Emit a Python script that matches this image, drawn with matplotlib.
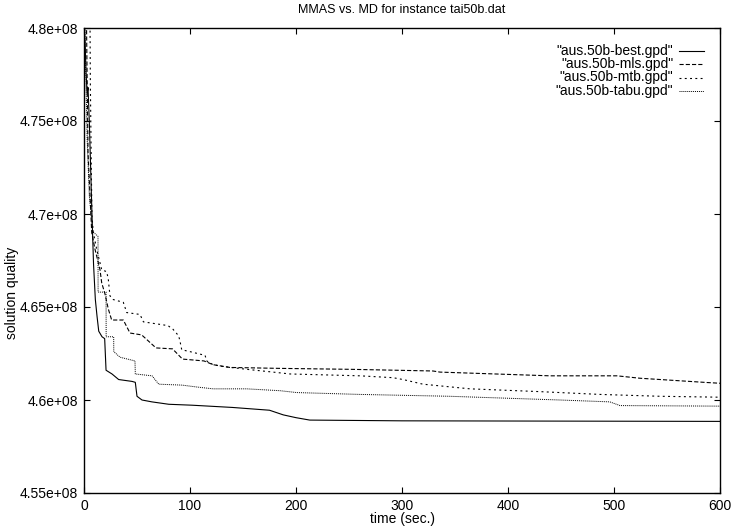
import matplotlib
matplotlib.use("Agg")
import matplotlib.pyplot as plt
from matplotlib.lines import Line2D
from matplotlib.ticker import FuncFormatter

plt.rcParams['font.family'] = ['Liberation Sans', 'DejaVu Sans']
plt.rcParams['lines.scale_dashes'] = False

title = "MMAS vs. MD for instance tai50b.dat"
xlabel = "time (sec.)"
ylabel = "solution quality"

labels = ['"aus.50b-best.gpd"', '"aus.50b-mls.gpd"', '"aus.50b-mtb.gpd"', '"aus.50b-tabu.gpd"']

# values in units of 1e6
best_t = [0, 2, 3, 3.8, 5, 7.5, 9, 10.7, 12.3, 13.9, 17, 19.5, 20.8, 26.4, 32.7, 45.3, 48.4,
          50, 54.7, 64, 80, 102, 140, 175, 188, 200, 213, 300, 600]
best_v = [481, 477.5, 476.5, 476.8, 475, 470, 467.3, 465.4, 464.5, 463.7, 463.4, 463.3, 461.6,
          461.4, 461.1, 461.0, 460.95, 460.2, 460.0, 459.9, 459.77, 459.72, 459.6, 459.45,
          459.2, 459.05, 458.92, 458.88, 458.85]

mls_t = [0, 2.4, 3.8, 7.3, 10.4, 15.1, 16.7, 19.8, 22.9, 26.1, 37.1, 43.4, 54.4, 67.9, 83.5,
         92.9, 113.2, 121.7, 137.7, 184.9, 250.9, 329.2, 335.8, 439.6, 502.8, 524.5, 587.7, 600]
mls_v = [482, 480.0, 473.3, 469.0, 468.1, 467.0, 466.3, 465.7, 464.9, 464.3, 464.3, 463.6, 463.5,
         462.8, 462.75, 462.2, 462.1, 461.9, 461.75, 461.7, 461.65, 461.56, 461.5, 461.3, 461.3,
         461.17, 460.94, 460.9]

mtb_t = [4.5, 5.7, 6, 7, 7.5, 8.8, 12, 16.7, 21.4, 22.9, 24.5, 27.6, 37.1, 40.3, 52.8, 56.1,
         79.2, 84, 89.3, 90.6, 92.2, 100, 114.2, 115.8, 121.7, 131.1, 153.5, 178.3, 194.3,
         260.4, 291.5, 301, 319.8, 364.2, 430, 486.8, 543.4, 600]
mtb_v = [482, 480.0, 477, 472, 469.9, 469.0, 468.1, 467.0, 466.9, 466.5, 465.6, 465.4, 465.25,
         464.7, 464.6, 464.2, 464.0, 463.8, 463.45, 463.15, 462.7, 462.6, 462.4, 462.1, 461.9,
         461.8, 461.65, 461.5, 461.4, 461.3, 461.2, 461.1, 460.85, 460.6, 460.45, 460.3,
         460.2, 460.15]

tabu_t = [0, 1.5, 3, 5, 8, 9.2, 13.2, 13.3, 20.8, 20.9, 28, 28.1, 34, 48.1, 48.4, 64.2, 70.5,
          92.5, 106.3, 121.7, 153.5, 184.9, 200.7, 260.4, 345, 449, 496, 505.7, 600]
tabu_v = [482, 478, 474, 471, 469.2, 469.0, 468.8, 465.8, 465.8, 463.4, 463.4, 462.6, 462.3,
          462.1, 461.4, 461.3, 460.85, 460.8, 460.7, 460.6, 460.6, 460.5, 460.4, 460.3, 460.2,
          460.0, 459.9, 459.7, 459.67]

xticks = [0, 100, 200, 300, 400, 500, 600]
yticks = [455, 460, 465, 470, 475, 480]

W, H = 731, 529
fig = plt.figure(figsize=(W / 100, H / 100), dpi=100)
ax = fig.add_axes([84 / W, 1 - 493 / H, (720 - 84) / W, (493 - 28) / H])

fs = 10
styles = [dict(lw=0.8, linestyle='-'),
          dict(lw=0.8, dashes=(3, 1.5)),
          dict(lw=0.8, dashes=(1.4, 2.4)),
          dict(lw=0.7, dashes=(0.7, 0.7))]
series = [(best_t, best_v), (mls_t, mls_v), (mtb_t, mtb_v), (tabu_t, tabu_v)]
for (t, v), st, lab in zip(series, styles, labels):
    ax.plot(t, v, color='black', label=lab, **st)

ax.set_xlim(0, 600)
ax.set_ylim(455, 480)
ax.set_xticks(xticks)
ax.set_yticks(yticks)
ax.yaxis.set_major_formatter(FuncFormatter(lambda v, p: '%g' % (v * 1e6)))
ax.tick_params(direction='in', length=4, width=0.8, labelsize=fs, top=True, right=True,
               pad=4.5, colors='black')
for s in ax.spines.values():
    s.set_linewidth(1.0)
    s.set_color('black')

fig.text(402 / W, 1 - 10 / H, title, ha='center', va='center', fontsize=9)
fig.text(402 / W, 1 - 519 / H, xlabel, ha='center', va='center', fontsize=fs)
fig.text(12 / W, 1 - 293 / H, ylabel, ha='center', va='center', rotation=90, fontsize=fs)

# legend (gnuplot style: right-aligned text, sample to the right)
row_y = [50.5, 64, 77.5, 91]
for lab, st, ry in zip(labels, styles, row_y):
    yf = 1 - ry / H
    fig.text(673 / W, yf, lab, ha='right', va='center', fontsize=fs)
    fig.add_artist(Line2D([679 / W, 704 / W], [yf, yf], color='black',
                          transform=fig.transFigure, **st))

fig.savefig('out.png', dpi=100)
